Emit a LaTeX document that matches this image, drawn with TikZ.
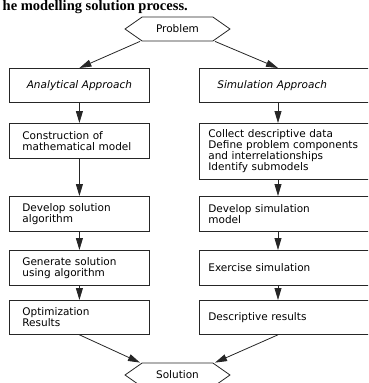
\documentclass[tikz,border=0pt]{standalone}
\usepackage{fontspec}
\setmainfont{Liberation Serif}
\newfontfamily\diafont{DejaVu Sans}
\usetikzlibrary{positioning,arrows.meta,shapes.symbols}

\begin{document}
\begin{tikzpicture}[x=1pt,y=-1pt, >={Triangle[length=12pt,width=7pt]},
  every node/.style={font=\diafont\fontsize{10.5}{11}\selectfont},
  lbox/.style={draw,text width=114pt,inner xsep=13pt,minimum height=35pt,align=left,anchor=north west},
  rbox/.style={draw,text width=158pt,inner xsep=9pt,minimum height=35pt,align=left,anchor=north west},
  appr/.style={font=\diafont\itshape\fontsize{10.5}{11}\selectfont},
  term/.style={draw,shape=signal,signal to=west and east,signal pointer angle=70,minimum width=105pt,minimum height=24pt},
  line width=0.8pt, draw=black!85]
\clip (0,0) rectangle (368,383);
\node[font=\bfseries\fontsize{14.5}{16}\selectfont,anchor=base west] (cap) at (-1,10.5) {he modelling solution process.};
\node[term] (prob) at (177.5,29) {Problem};
% analytical side
\node[lbox,appr,minimum height=34pt,align=center] (ana) at (9,68) {Analytical Approach};
\node[lbox] (con) at (9,123) {Construction of\\mathematical model};
\node[lbox] (dev) at (9,196) {Develop solution\\algorithm};
\node[lbox] (gen) at (9,250) {Generate solution\\using algorithm};
\node[lbox,minimum height=34pt] (opt) at (9,300) {Optimization\\Results};
% simulation side
\coordinate (rx) at (278,0);
\node[rbox,appr,minimum height=34pt,inner xsep=18pt,text width=140pt] (sim) at (199,68) {Simulation Approach};
\node[rbox,minimum height=56pt] (col) at (199,123) {Collect descriptive data\\Define problem components\\and interrelationships\\Identify submodels};
\node[rbox] (dsm) at (199,196) {Develop simulation\\model};
\node[rbox] (exe) at (199,250) {Exercise simulation};
\node[rbox,minimum height=34pt] (des) at (199,300) {Descriptive results};
\node[term] (sol) at (177.5,375) {Solution};
\draw[->] ([xshift=-37.5pt]prob.south) -- (ana.north);
\draw[->] ([xshift=37.5pt]prob.south) -- (rx |- sim.north);
\draw[->] (ana) -- (con); \draw[->] (con) -- (dev); \draw[->] (dev) -- (gen); \draw[->] (gen) -- (opt);
\draw[->] (rx |- sim.south) -- (rx |- col.north); \draw[->] (rx |- col.south) -- (rx |- dsm.north);
\draw[->] (rx |- dsm.south) -- (rx |- exe.north); \draw[->] (rx |- exe.south) -- (rx |- des.north);
\draw[->] (opt.south) -- ([xshift=-37.5pt]sol.north);
\draw[->] (rx |- des.south) -- ([xshift=37.5pt]sol.north);
\end{tikzpicture}
\end{document}
